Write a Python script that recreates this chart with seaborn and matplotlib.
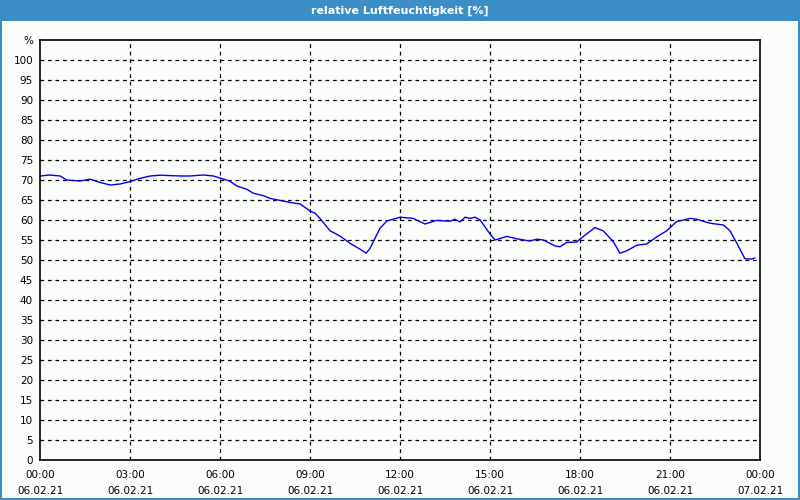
import matplotlib
matplotlib.use("Agg")
import numpy as np
import pandas as pd
import matplotlib.pyplot as plt
import seaborn as sns
from matplotlib.patches import Rectangle
from matplotlib.ticker import MultipleLocator

# hours since 06.02.21 00:00
hours = [0.0, 0.33, 0.67, 0.89, 1.33, 1.67, 2.0, 2.33, 2.67, 3.0, 3.33, 3.67,
         4.0, 4.67, 5.0, 5.44, 5.78, 6.11, 6.33, 6.56, 6.89, 7.11, 7.44, 7.67,
         8.0, 8.33, 8.67, 9.0, 9.17, 9.33, 9.67, 10.0, 10.33, 10.67, 10.87,
         11.0, 11.33, 11.56, 12.0, 12.44, 12.83, 13.22, 13.67, 13.83, 14.0,
         14.17, 14.33, 14.5, 14.67, 15.0, 15.17, 15.56, 15.89, 16.33, 16.56,
         16.78, 17.17, 17.33, 17.56, 17.89, 18.06, 18.5, 18.78, 19.11, 19.33,
         19.56, 19.89, 20.22, 20.56, 20.89, 21.22, 21.67, 21.89, 22.33, 22.78,
         23.0, 23.22, 23.5, 23.72, 23.83]
humidity = [71.0, 71.25, 71.0, 70.0, 69.75, 70.2, 69.4, 68.75, 69.0, 69.6, 70.4, 71.0,
            71.2, 71.0, 71.0, 71.25, 71.0, 70.25, 69.7, 68.5, 67.7, 66.7, 66.1, 65.4,
            64.9, 64.4, 64.0, 62.25, 61.7, 60.4, 57.3, 56.0, 54.2, 52.7, 51.7,
            52.9, 57.9, 59.75, 60.7, 60.4, 59.0, 59.9, 59.7, 60.2, 59.5,
            60.7, 60.4, 60.7, 60.0, 56.5, 55.0, 55.9, 55.3, 54.75, 55.2,
            55.0, 53.5, 53.3, 54.4, 54.5, 55.6, 58.1, 57.25, 54.6, 51.7,
            52.3, 53.7, 54.0, 55.8, 57.3, 59.6, 60.4, 60.2, 59.2, 58.75,
            57.3, 54.3, 50.3, 50.25, 50.5]

tick_hours = [0, 3, 6, 9, 12, 15, 18, 21, 24]
tick_labels = ["00:00\n06.02.21", "03:00\n06.02.21", "06:00\n06.02.21",
               "09:00\n06.02.21", "12:00\n06.02.21", "15:00\n06.02.21",
               "18:00\n06.02.21", "21:00\n06.02.21", "00:00\n07.02.21"]
y_ticks = list(range(0, 101, 5))
title = "relative Luftfeuchtigkeit [%]"

df = pd.DataFrame({"hour": hours, "humidity": humidity})

sns.set_style("white")
plt.rcParams["font.family"] = ["DejaVu Sans"]

bg = "#fbfdfb"
blue = "#3c8fc6"

fig = plt.figure(figsize=(8, 5), dpi=100, facecolor=bg)
ax = fig.add_axes([0.05, 0.08, 0.90, 0.84])
ax.set_facecolor(bg)

sns.lineplot(data=df, x="hour", y="humidity", ax=ax, color="#0000ee", linewidth=1.0)

ax.set_xlim(0, 24)
ax.set_ylim(0, 105)
ax.set_xticks(tick_hours)
ax.set_xticklabels(tick_labels, fontsize=7.5, linespacing=1.75)
ax.xaxis.set_minor_locator(MultipleLocator(1))
ax.set_yticks(y_ticks + [105])
ax.set_yticklabels([str(v) for v in y_ticks] + ["%"], fontsize=7.5)
ax.set_xlabel("")
ax.set_ylabel("")

ax.tick_params(axis="both", which="both", direction="out", colors="black", width=1)
ax.tick_params(axis="x", which="major", length=4, pad=3)
ax.tick_params(axis="x", which="minor", length=3)
ax.tick_params(axis="y", length=3, pad=2)

for y in y_ticks[1:]:
    ax.axhline(y, color="black", linestyle=(0, (3, 3)), linewidth=0.9, zorder=0)
for x in tick_hours[1:-1]:
    ax.axvline(x, color="black", linestyle=(0, (3, 3)), linewidth=0.9, zorder=0)

for side in ["top", "bottom", "left", "right"]:
    ax.spines[side].set_visible(True)
    ax.spines[side].set_color("black")
    ax.spines[side].set_linewidth(1.2)

# title bar and window frame
fig.patches.append(Rectangle((0, 0.958), 1, 0.042, transform=fig.transFigure,
                             facecolor=blue, edgecolor="none", zorder=0))
fig.patches.append(Rectangle((0.001, 0.002), 0.998, 0.996, transform=fig.transFigure,
                             facecolor="none", edgecolor=blue, linewidth=1.5, zorder=1))
fig.text(0.5, 0.979, title, color="white", fontsize=8, fontweight="bold",
         ha="center", va="center")

fig.savefig("out.png", dpi=100, facecolor=bg)
